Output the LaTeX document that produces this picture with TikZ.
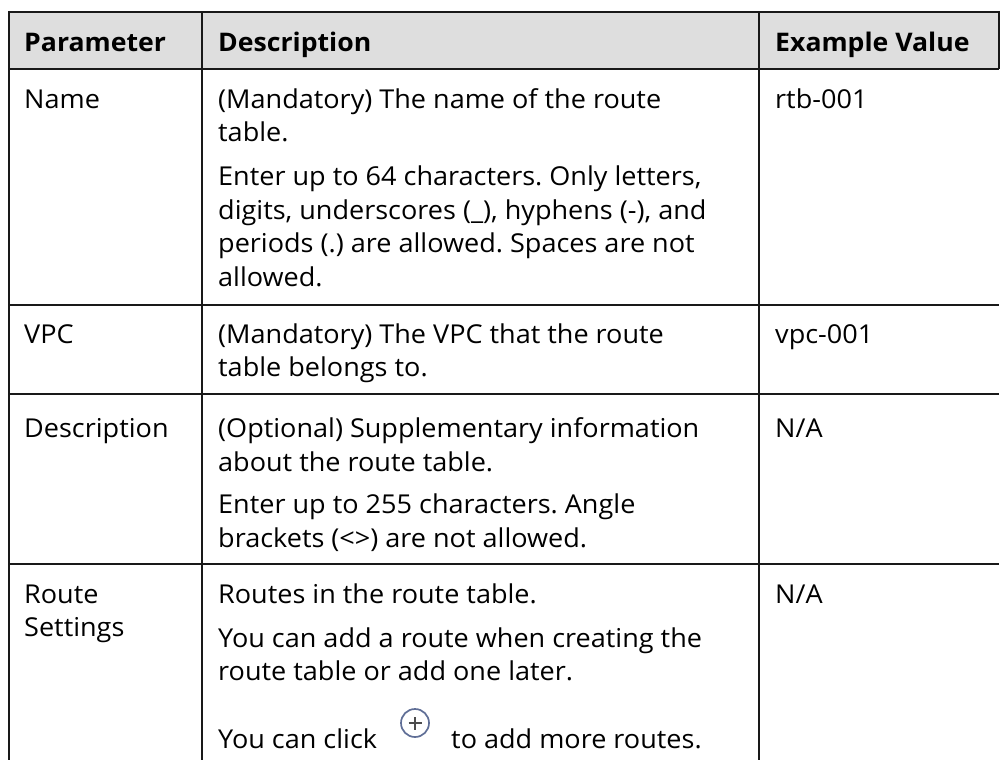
\documentclass[tikz,border=0pt]{standalone}
\usepackage{fontspec}
\setmainfont{Open Sans}[FakeStretch=1.04]
\frenchspacing
\begin{document}
\begin{tikzpicture}[x=1pt,y=-1pt,
  txt/.style={anchor=base west,inner sep=0pt,font=\fontsize{26}{33}\selectfont,text=black},
  hdr/.style={txt,font=\fontsize{25.6}{33}\selectfont\bfseries},
  grid/.style={draw=black!90,line width=2pt},
  headfill/.style={fill=black!13,draw=none}]
\useasboundingbox (0,0) rectangle (1000,760);
% header background
\fill[headfill] (9,12) rectangle (999,69);
% grid
\draw[grid] (9,12) -- (999,12);
\draw[grid] (9,69) -- (999,69);
\draw[grid] (9,304.5) -- (999,304.5);
\draw[grid] (9,394) -- (999,394);
\draw[grid] (9,563.5) -- (999,563.5);
\draw[grid] (9,11) -- (9,760);
\draw[grid] (202,12) -- (202,760);
\draw[grid] (759,12) -- (759,760);
\draw[grid] (999,11) -- (999,69);
% header
\node[hdr] (h1) at (24,52) {Parameter};
\node[hdr] (h2) at (218,52) {Description};
\node[hdr] (h3) at (775,52) {Example Value};
% row 1
\node[txt] (p1) at (24,108) {Name};
\node[txt] (d11) at (218,108) {(Mandatory) The name of the route};
\node[txt] (d12) at (218,141.5) {table.};
\node[txt] (d13) at (218,185.5) {Enter up to 64 characters. Only letters,};
\node[txt] (d14) at (218,219) {digits, underscores (\_), hyphens (-), and};
\node[txt] (d15) at (218,252.5) {periods (.) are allowed. Spaces are not};
\node[txt] (d16) at (218,286) {allowed.};
\node[txt] (e1) at (775,108) {rtb-001};
% row 2
\node[txt] (p2) at (24,343) {VPC};
\node[txt] (d21) at (218,343) {(Mandatory) The VPC that the route};
\node[txt] (d22) at (218,376) {table belongs to.};
\node[txt] (e2) at (775,343) {vpc-001};
% row 3
\node[txt] (p3) at (24,437) {Description};
\node[txt] (d31) at (218,437) {(Optional) Supplementary information};
\node[txt] (d32) at (218,471) {about the route table.};
\node[txt] (d33) at (218,513) {Enter up to 255 characters. Angle};
\node[txt] (d34) at (218,547) {brackets (<>) are not allowed.};
\node[txt] (e3) at (775,437) {N/A};
% row 4
\node[txt] (p4a) at (24,603) {Route};
\node[txt] (p4b) at (24,636) {Settings};
\node[txt] (d41) at (218,603) {Routes in the route table.};
\node[txt] (d42) at (218,647) {You can add a route when creating the};
\node[txt] (d43) at (218,680) {route table or add one later.};
\node[txt] (d44) at (218,748) {You can click};
\node[circle,draw={rgb,255:red,95;green,110;blue,150},line width=1.7pt,minimum size=28pt,inner sep=0pt] (plus) at (415,723) {};
\draw[line width=1.7pt,draw=black!70] ([xshift=-6.5pt]plus.center) -- ([xshift=6.5pt]plus.center);
\draw[line width=1.7pt,draw=black!70] ([yshift=-6.5pt]plus.center) -- ([yshift=6.5pt]plus.center);
\node[txt] (d45) at (451,748) {to add more routes.};
\node[txt] (e4) at (775,603) {N/A};
\end{tikzpicture}
\end{document}
